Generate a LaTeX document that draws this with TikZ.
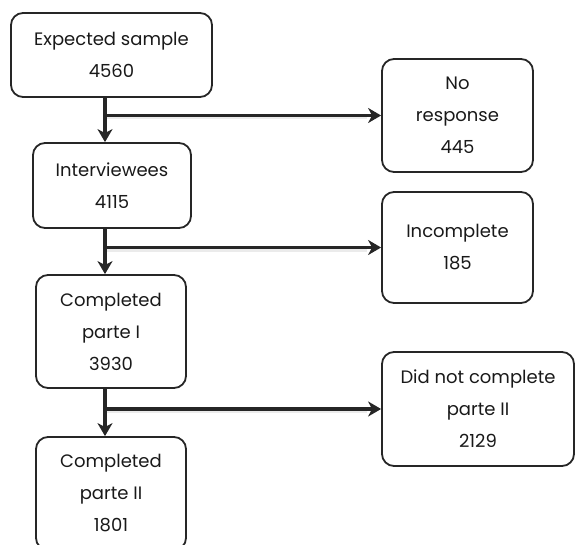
\documentclass[tikz,border=0pt]{standalone}
\usepackage{fontspec}
\setmainfont{Poppins}
\usetikzlibrary{arrows.meta}
\begin{document}
\begin{tikzpicture}[x=1pt,y=-1pt,
  box/.style={draw=black!85, line width=1.8pt, rounded corners=12pt, align=center,
    inner sep=0pt, font=\fontsize{18}{32}\selectfont, text=black!90},
  conn/.style={draw=black!85, line width=3.8pt, -{Stealth[length=13pt,width=15pt,inset=4pt]}},
  shade/.style={draw=black!8, line width=2pt}]
\useasboundingbox (0,0) rectangle (575,545);
\begin{scope}
\clip (0,0) rectangle (575,545);
\node[box, minimum width=201pt, minimum height=84pt] (b1) at (111.5,55) {Expected sample\\4560};
\node[box, minimum width=158pt, minimum height=85pt] (b2) at (112,185.5) {Interviewees\\4115};
\node[box, minimum width=150pt, minimum height=113pt] (b3) at (111,331.5) {Completed\\parte I\\3930};
\node[box, minimum width=150pt, minimum height=113pt] (b4) at (111,493.5) {Completed\\parte II\\1801};
\node[box, minimum width=151pt, minimum height=113pt] (r1) at (457.5,115.5) {No\\response\\445};
\node[box, minimum width=151pt, minimum height=111pt] (r2) at (457.5,247.5) {Incomplete\\185};
\node[box, minimum width=192pt, minimum height=114pt] (r3) at (478,409) {Did not complete\\parte II\\2129};
\end{scope}
\coordinate (v) at (105,0);
\coordinate (j1) at (v |- r1.west);
\coordinate (j2) at (v |- r2.west);
\coordinate (j3) at (v |- r3.west);
% light shadows
\draw[shade] ([xshift=2pt,yshift=-3pt]j1) -- ([xshift=-14pt,yshift=-3pt]r1.west);
\draw[shade] ([xshift=2pt,yshift=-3pt]j2) -- ([xshift=-14pt,yshift=-3pt]r2.west);
\draw[shade] ([xshift=2pt,yshift=-3pt]j3) -- ([xshift=-14pt,yshift=-3pt]r3.west);
% connectors
\draw[conn] (b1.south -| v) -- (b2.north -| v);
\draw[conn] (b2.south -| v) -- (b3.north -| v);
\draw[conn] (b3.south -| v) -- (b4.north -| v);
\draw[conn] (j1) -- (r1.west);
\draw[conn] (j2) -- (r2.west);
\draw[conn] (j3) -- (r3.west);
\end{tikzpicture}
\end{document}
